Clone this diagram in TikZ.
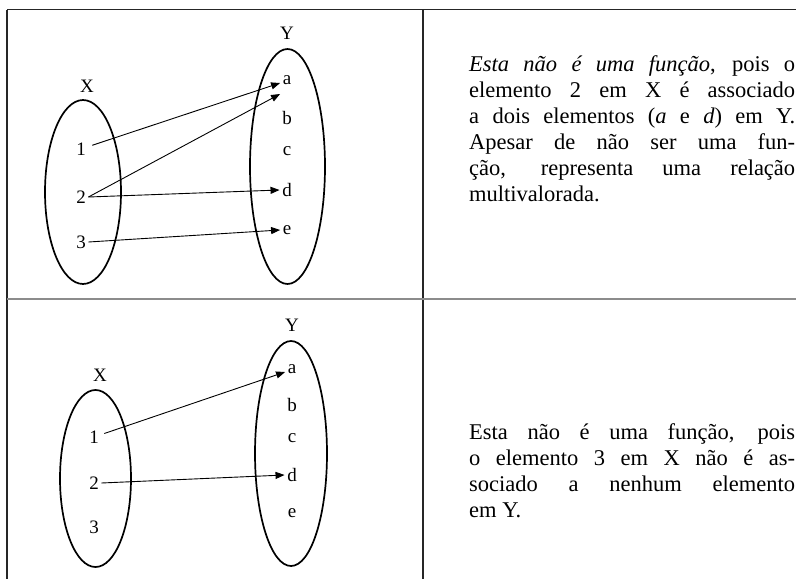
\documentclass[tikz,border=0pt]{standalone}
\usepackage{fontspec}
\usetikzlibrary{arrows.meta,shapes.geometric}
\newfontfamily\diagfont{Liberation Serif}
\newfontfamily\bodyfont{Liberation Serif}
\hyphenpenalty=10000

\begin{document}
\begin{tikzpicture}[x=1pt, y=-1pt, every node/.style={font=\diagfont\fontsize{19pt}{21pt}\selectfont}]
  \tikzstyle{setoval}=[draw,ellipse,line width=1.7pt,inner sep=0pt]
  \tikzstyle{elem}=[inner sep=2.5pt]
  \tikzstyle{maparrow}=[-{Triangle[length=9pt,width=7pt]},line width=0.9pt]
  \tikzstyle{ruleline}=[line width=1.2pt,black!85]
  \tikzstyle{midrule}=[line width=1.5pt,black!45]
  \tikzstyle{comment}=[anchor=base west,inner sep=0pt,text width=326pt,align=justify,
    font=\bodyfont\fontsize{22.5pt}{26pt}\selectfont]
  \useasboundingbox (0,0) rectangle (796,579);

  % table frame
  \draw[ruleline] (7,9.5) -- (796,9.5);
  \draw[ruleline] (7,9.5) -- (7,579);
  \draw[ruleline] (423,9.5) -- (423,579);
  \draw[midrule] (7,299) -- (796,299);

  % first row: 2 goes to a and d
  \node[setoval,minimum width=76pt,minimum height=184pt] (xa) at (83,192) {};
  \node[setoval,minimum width=75pt,minimum height=235pt] (ya) at (287.5,166.5) {};
  \node (xalab) at (87,86) {X};
  \node (yalab) at (287,33) {Y};
  \node[elem] (p1) at (81,149) {1};
  \node[elem] (p2) at (81,197) {2};
  \node[elem] (p3) at (81,242) {3};
  \node[elem] (pa) at (287,80) {a};
  \node[elem] (pb) at (287,118) {b};
  \node[elem] (pc) at (287,151) {c};
  \node[elem] (pd) at (287,190) {d};
  \node[elem] (pe) at (287,230) {e};
  \draw[maparrow,shorten <=4pt] (p1) -- ([yshift=-3pt]pa.west);
  \draw[maparrow] (p2.east) -- ([yshift=-14pt]pa.west);
  \draw[maparrow] (p2.east) -- (pd.west);
  \draw[maparrow] (p3.east) -- (pe.west);
  \node[comment] (com1) at (469,71.5) {\textit{Esta não é uma função}, pois o\linebreak
    elemento 2 em X é associado\linebreak
    a dois elementos (\textit{a} e \textit{d}) em Y.\linebreak
    Apesar de não ser uma fun-\linebreak
    ção, representa uma relação\linebreak
    multivalorada.};

  % second row: 3 has no image
  \node[setoval,minimum width=71pt,minimum height=177pt] (xb) at (95.5,478.5) {};
  \node[setoval,minimum width=72pt,minimum height=225pt] (yb) at (291,453.5) {};
  \node (xblab) at (100,375) {X};
  \node (yblab) at (292,325) {Y};
  \node[elem] (q1) at (94,437) {1};
  \node[elem] (q2) at (94,483) {2};
  \node[elem] (q3) at (94,527) {3};
  \node[elem] (qa) at (292,369) {a};
  \node[elem] (qb) at (292,405) {b};
  \node[elem] (qc) at (292,438) {c};
  \node[elem] (qd) at (292,475) {d};
  \node[elem] (qe) at (292,513) {e};
  \draw[maparrow,shorten <=3pt] (q1) -- ([yshift=-3pt]qa.west);
  \draw[maparrow] (q2.east) -- (qd.west);
  \node[comment] (com2) at (469,439) {Esta não é uma função, pois\linebreak
    o elemento 3 em X não é as-\linebreak
    sociado a nenhum elemento\linebreak
    em Y.};
\end{tikzpicture}
\end{document}
